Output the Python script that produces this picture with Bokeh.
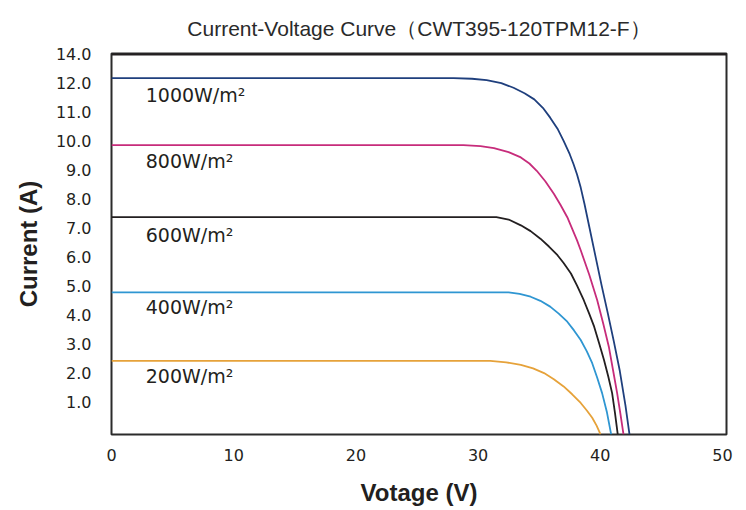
from bokeh.plotting import figure
from bokeh.models import FixedTicker, Range1d, Span
from bokeh.core.properties import value
from bokeh.embed import file_html
from bokeh.resources import INLINE

# ---- data ----
v_1000 = [0, 28.0, 29.5, 30.7, 31.9, 32.9, 33.8, 34.6, 35.3, 35.9, 36.5, 37.0, 37.5, 37.8,
          38.1, 38.4, 38.7, 39.1, 39.6, 40.1, 40.6, 41.1, 41.6, 42.06, 42.39]
i_1000 = [12.17, 12.17, 12.15, 12.10, 12.0, 11.84, 11.65, 11.44, 11.15, 10.81, 10.43, 10.01,
          9.55, 9.22, 8.85, 8.4, 7.85, 7.05, 6.05, 5.05, 4.1, 3.12, 2.08, 0.9, -0.1]

v_800 = [0, 28.8, 30.2, 31.3, 32.5, 33.5, 34.2, 34.8, 35.5, 36.2, 36.75, 37.3, 38.1, 38.4,
         39.1, 39.75, 40.25, 40.7, 41.05, 41.38, 41.65, 41.9]
i_800 = [9.86, 9.86, 9.83, 9.76, 9.62, 9.44, 9.23, 8.98, 8.62, 8.19, 7.8, 7.38, 6.58, 6.24,
         5.4, 4.52, 3.7, 2.92, 2.1, 1.32, 0.6, -0.1]

v_600 = [0, 31.5, 32.5, 33.5, 34.3, 35.1, 35.8, 36.5, 37.0, 37.6, 38.1, 38.65, 39.1, 39.5,
         39.9, 40.3, 40.65, 40.97, 41.2, 41.43]
i_600 = [7.38, 7.38, 7.30, 7.10, 6.9, 6.64, 6.37, 6.07, 5.8, 5.44, 5.02, 4.52, 4.05, 3.61,
         3.05, 2.47, 1.9, 1.32, 0.65, -0.1]

v_400 = [0, 32.5, 33.4, 34.3, 35.1, 35.9, 36.6, 37.3, 37.85, 38.4, 38.9, 39.34, 39.75,
         40.15, 40.55, 40.89]
i_400 = [4.79, 4.79, 4.74, 4.64, 4.5, 4.30, 4.06, 3.78, 3.48, 3.15, 2.76, 2.35, 1.85,
         1.32, 0.65, -0.1]

v_200 = [0, 31.0, 32.3, 33.5, 34.5, 35.4, 36.2, 37.0, 37.7, 38.4, 38.9, 39.34, 39.7, 40.02]
i_200 = [2.43, 2.43, 2.38, 2.29, 2.17, 2.01, 1.8, 1.55, 1.28, 0.98, 0.72, 0.47, 0.2, -0.1]

series_labels = ["1000W/m²", "800W/m²", "600W/m²", "400W/m²", "200W/m²"]
label_x = [2.8, 2.8, 2.8, 2.8, 2.8]
label_y = [11.6, 9.3, 6.75, 4.3, 1.9]
colors = ["#1f3f7d", "#c72c7b", "#231f20", "#2f96d2", "#e6a23a"]

title_text = "Current-Voltage Curve（CWT395-120TPM12-F）"

y_ticks = [1, 2, 3, 4, 5, 6, 7, 8, 9, 10, 11, 12, 13]
y_tick_labels = ["1.0", "2.0", "3.0", "4.0", "5.0", "6.0", "7.0", "8.0", "9.0",
                 "10.0", "11.0", "12.0", "14.0"]
x_ticks = [0, 10, 20, 30, 40, 50]

Y_TOP = 13.02

p = figure(width=738, height=508, output_backend="svg", toolbar_location=None,
           x_range=Range1d(0, 50.33), y_range=Range1d(-0.106, Y_TOP),
           min_border_left=111, min_border_right=12, min_border_top=53,
           min_border_bottom=73)

p.title.text = title_text
p.title.align = "center"
p.title.text_font = "Liberation Sans"
p.title.text_font_size = "21px"
p.title.text_font_style = "normal"
p.title.text_color = "#2a2a2a"
p.title.standoff = 27

p.grid.visible = False
p.outline_line_color = "#2b2b2b"
p.outline_line_width = 2
p.background_fill_color = "white"
p.border_fill_color = "white"

xs = [v_1000, v_800, v_600, v_400, v_200]
ys = [i_1000, i_800, i_600, i_400, i_200]
for xv, yv, c in zip(xs, ys, colors):
    p.line(xv, yv, line_color=c, line_width=1.8, line_join="round")

p.text(x=label_x, y=label_y, text=series_labels, text_font=value("DejaVu Sans"),
       text_font_size="19px", text_color="#231f20", text_baseline="middle",
       text_align="left")

top_line = Span(location=Y_TOP, dimension="width", line_color="#231f20", line_width=4)
p.add_layout(top_line)

for ax in (p.xaxis[0], p.yaxis[0]):
    ax.axis_line_color = None
    ax.major_tick_line_color = None
    ax.minor_tick_line_color = None
    ax.major_label_text_font = "DejaVu Sans"
    ax.major_label_text_font_size = "16px"
    ax.major_label_text_color = "#231f20"
    ax.axis_label_text_font = "Liberation Sans"
    ax.axis_label_text_font_style = "bold"
    ax.axis_label_text_font_size = "24px"
    ax.axis_label_text_color = "#231f20"

p.yaxis.ticker = FixedTicker(ticks=y_ticks)
p.yaxis.major_label_overrides = {t: l for t, l in zip(y_ticks, y_tick_labels)}
p.yaxis.major_label_standoff = 14
p.yaxis.axis_label = "Current (A)"
p.yaxis.axis_label_standoff = 11

p.xaxis.ticker = FixedTicker(ticks=x_ticks)
p.xaxis.major_label_standoff = 8
p.xaxis.axis_label = "Votage (V)"
p.xaxis.axis_label_standoff = 15

open("out.html", "w").write(file_html(p, INLINE))
